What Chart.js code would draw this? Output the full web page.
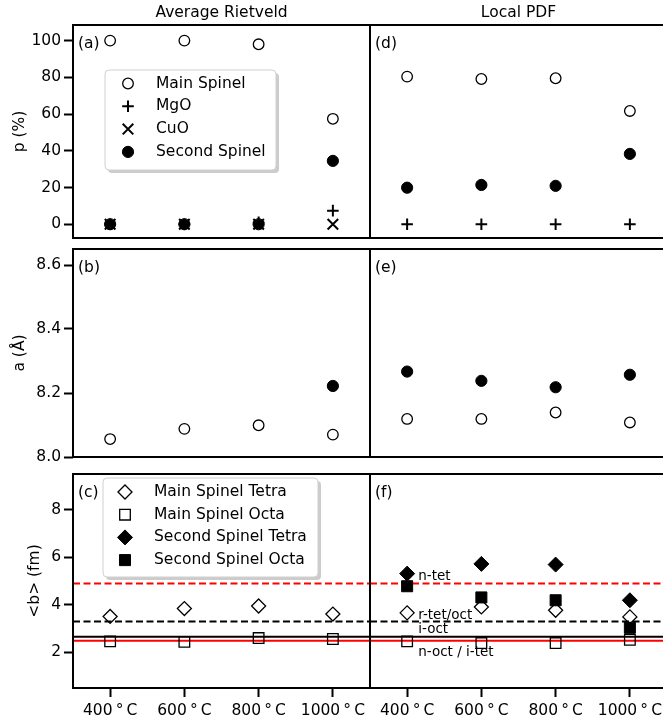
<!DOCTYPE html>
<html><head><meta charset="utf-8">
<script src="https://cdn.jsdelivr.net/npm/chart.js@4.4.1/dist/chart.umd.min.js"></script>
<style>
html,body{margin:0;padding:0;background:#fff;overflow:hidden}
#wrap{position:relative;width:663px;height:726px;overflow:hidden;background:#fff}
#wrap canvas{position:absolute;left:0;top:0}
</style></head><body>
<div id="wrap">
<canvas id="pa" width="663" height="726"></canvas>
<canvas id="pb" width="663" height="726"></canvas>
<canvas id="pc" width="663" height="726"></canvas>
<canvas id="pd" width="720" height="726"></canvas>
<canvas id="pe" width="720" height="726"></canvas>
<canvas id="pf" width="720" height="726"></canvas>
</div>
<script>
// ---------- data ----------
const temperatureLabels = ['400\u2009°\u2009C', '600\u2009°\u2009C', '800\u2009°\u2009C', '1000\u2009°\u2009C'];

// (a) Average Rietveld: phase fraction p (%)
const avgMainSpinelP   = [100, 100, 98, 57.4];
const avgMgOP          = [0, 0, 1, 7.4];
const avgCuOP          = [0, 0, 0, 0];
const avgSecondSpinelP = [0, 0, 0, 34.5];

// (d) Local PDF: phase fraction p (%)
const pdfMainSpinelP   = [80.4, 79.1, 79.5, 61.7];
const pdfMgOP          = [0, 0, 0, 0];
const pdfSecondSpinelP = [19.9, 21.4, 20.9, 38.3];

// (b) Average Rietveld: lattice parameter a (Å)
const avgMainSpinelA   = [8.056, 8.088, 8.099, 8.070];
const avgSecondSpinelA = [null, null, null, 8.222];

// (e) Local PDF: lattice parameter a (Å)
const pdfMainSpinelA   = [8.119, 8.119, 8.139, 8.108];
const pdfSecondSpinelA = [8.267, 8.238, 8.218, 8.257];

// (c) Average Rietveld: <b> (fm)
const avgMainTetraB = [3.51, 3.84, 3.95, 3.61];
const avgMainOctaB  = [2.46, 2.44, 2.60, 2.56];

// (f) Local PDF: <b> (fm)
const pdfMainTetraB   = [3.66, 3.91, 3.77, 3.49];
const pdfMainOctaB    = [2.46, 2.39, 2.39, 2.53];
const pdfSecondTetraB = [5.31, 5.72, 5.69, 4.19];
const pdfSecondOctaB  = [4.78, 4.31, 4.19, 3.03];

// reference <b> lines
const refLineValues = [4.9, 3.3, 2.66, 2.49];
const refLineColors = ['#ff0000', '#000000', '#000000', '#ff0000'];
const refLineDashed = [true, true, false, false];
const refLabels     = ['n-tet', 'r-tet/oct', 'i-oct', 'n-oct / i-tet'];
const refLabelY     = [5.18, 3.56, 2.95, 1.99];
const refLabelX     = 0.15;

// tick values
const pTicks = [0, 20, 40, 60, 80, 100];
const aTicks = [8.0, 8.2, 8.4, 8.6];
const bTicks = [2, 4, 6, 8];

// ---------- styles ----------
const FONT = 'DejaVu Sans';
const FS = 15.5;
const CLEAR = 'rgba(0,0,0,0)';
const styles = {
  mainSpinel:   {pointStyle: 'circle',   radius: 5.3, bg: CLEAR,  bw: 1.3},
  mgo:          {pointStyle: 'cross',    radius: 5.8, bg: '#000', bw: 2},
  cuo:          {pointStyle: 'crossRot', radius: 7.5, bg: '#000', bw: 2},
  secondSpinel: {pointStyle: 'circle',   radius: 5.6, bg: '#000', bw: 1},
  mainTetra:    {pointStyle: 'rectRot',  radius: 7,   bg: CLEAR,  bw: 1.3},
  mainOcta:     {pointStyle: 'rect',     radius: 7.5, bg: CLEAR,  bw: 1.3},
  secondTetra:  {pointStyle: 'rectRot',  radius: 7.5, bg: '#000', bw: 1},
  secondOcta:   {pointStyle: 'rect',     radius: 7.8, bg: '#000', bw: 1}
};

function ds(label, data, st) {
  return {
    label, data, showLine: false,
    pointStyle: st.pointStyle, pointRadius: st.radius, pointHoverRadius: st.radius,
    pointBackgroundColor: st.bg, pointBorderColor: '#000', pointBorderWidth: st.bw,
    pointHoverBorderWidth: st.bw, borderColor: '#000', backgroundColor: st.bg
  };
}

// ---------- plugin ----------
function roundRectPath(ctx, x, y, w, h, r) {
  ctx.beginPath();
  ctx.moveTo(x + r, y);
  ctx.lineTo(x + w - r, y); ctx.quadraticCurveTo(x + w, y, x + w, y + r);
  ctx.lineTo(x + w, y + h - r); ctx.quadraticCurveTo(x + w, y + h, x + w - r, y + h);
  ctx.lineTo(x + r, y + h); ctx.quadraticCurveTo(x, y + h, x, y + h - r);
  ctx.lineTo(x, y + r); ctx.quadraticCurveTo(x, y, x + r, y);
  ctx.closePath();
}

const panelPlugin = {
  id: 'panel',
  beforeDatasetsDraw(chart, args, o) {
    if (!o.refLines) return;
    const ctx = chart.ctx, ca = chart.chartArea, ys = chart.scales.y;
    ctx.save();
    ctx.beginPath(); ctx.rect(ca.left, ca.top, ca.right - ca.left, ca.bottom - ca.top); ctx.clip();
    refLineValues.forEach((v, i) => {
      const py = ys.getPixelForValue(v);
      ctx.strokeStyle = refLineColors[i];
      ctx.lineWidth = 2;
      ctx.setLineDash(refLineDashed[i] ? [7, 3.5] : []);
      ctx.beginPath(); ctx.moveTo(ca.left, py); ctx.lineTo(ca.right, py); ctx.stroke();
    });
    ctx.restore();
  },
  afterDatasetsDraw(chart, args, o) {
    const ctx = chart.ctx, ca = chart.chartArea;
    if (o.refText) {
      const xs = chart.scales.x, ys = chart.scales.y;
      ctx.save();
      ctx.font = '13.5px "' + FONT + '"';
      ctx.fillStyle = '#000'; ctx.textBaseline = 'middle'; ctx.textAlign = 'left';
      const x0 = xs.getPixelForValue(0), x1 = xs.getPixelForValue(1);
      refLabels.forEach((t, i) => {
        ctx.fillText(t, x0 + (x1 - x0) * refLabelX, ys.getPixelForValue(refLabelY[i]));
      });
      ctx.restore();
    }
    if (o.legend) {
      const L = o.legend;
      const x = ca.left + L.x, y = ca.top + L.y;
      ctx.save();
      ctx.fillStyle = 'rgba(0,0,0,0.2)';
      roundRectPath(ctx, x + 3, y + 3, L.w, L.h, 4); ctx.fill();
      ctx.fillStyle = '#ffffff';
      roundRectPath(ctx, x, y, L.w, L.h, 4); ctx.fill();
      ctx.strokeStyle = '#d0d0d0'; ctx.lineWidth = 1; ctx.stroke();
      L.items.forEach((it, i) => {
        const cy = y + L.first + i * L.step;
        const st = it.style;
        ctx.fillStyle = st.bg; ctx.strokeStyle = '#000'; ctx.lineWidth = st.bw;
        Chart.helpers.drawPoint(ctx, {pointStyle: st.pointStyle, radius: st.radius, borderWidth: st.bw, rotation: 0}, x + L.mx, cy);
        ctx.fillStyle = '#000';
        ctx.font = FS + 'px "' + FONT + '"';
        ctx.textBaseline = 'middle'; ctx.textAlign = 'left';
        ctx.fillText(it.text, x + L.tx, cy);
      });
      ctx.restore();
    }
  },
  afterDraw(chart, args, o) {
    const ctx = chart.ctx, ca = chart.chartArea;
    ctx.save();
    ctx.strokeStyle = '#000'; ctx.lineWidth = 2; ctx.setLineDash([]);
    ctx.strokeRect(ca.left, ca.top, ca.right - ca.left, ca.bottom - ca.top);
    ctx.fillStyle = '#000';
    ctx.font = FS + 'px "' + FONT + '"';
    if (o.label) {
      ctx.textAlign = 'left'; ctx.textBaseline = 'middle';
      ctx.fillText(o.label, ca.left + 5, ca.top + 18.5);
    }
    if (o.title) {
      ctx.textAlign = 'center'; ctx.textBaseline = 'middle';
      ctx.fillText(o.title, (ca.left + ca.right) / 2, 12.5);
    }
    ctx.restore();
  }
};
Chart.register(panelPlugin);
Chart.defaults.color = '#000';
Chart.defaults.font.family = FONT;
Chart.defaults.font.size = FS;

function makePanel(id, cfg) {
  const tickGrid = {display: true, drawOnChartArea: false, drawTicks: true, tickLength: 9, tickWidth: 2, tickColor: '#000'};
  return new Chart(document.getElementById(id), {
    type: 'line',
    data: {labels: temperatureLabels, datasets: cfg.datasets},
    options: {
      responsive: false, animation: false, events: [],
      layout: {padding: cfg.padding, autoPadding: false},
      plugins: {legend: {display: false}, tooltip: {enabled: false}, title: {display: false}, panel: cfg.panel},
      scales: {
        x: {
          type: 'category', offset: true, display: cfg.showX,
          grid: tickGrid, border: {display: false},
          ticks: {color: '#000', font: {size: FS}, padding: 5, maxRotation: 0, autoSkip: false},
          afterFit: s => { s.height = cfg.showX ? 38 : 0; }
        },
        y: {
          type: 'linear', min: cfg.yMin, max: cfg.yMax, display: cfg.showY,
          grid: tickGrid, border: {display: false},
          afterBuildTicks: s => { s.ticks = cfg.yTicks.map(v => ({value: v})); },
          ticks: {color: '#000', font: {size: FS}, padding: 3, callback: cfg.yFmt},
          title: {display: !!cfg.yTitle, text: cfg.yTitle, color: '#000', font: {size: FS}, padding: {top: cfg.yTitlePad || 11, bottom: 0}},
          afterFit: s => { s.width = cfg.showY ? 73 : 0; }
        }
      }
    }
  });
}

const intFmt = v => String(Math.round(v));
const oneFmt = v => v.toFixed(1);

const padL = (top, bottom) => ({left: 0, right: 663 - 370, top, bottom});
const padR = (top, bottom) => ({left: 370, right: 720 - 667, top, bottom});

// (a)
makePanel('pa', {
  padding: padL(25, 726 - 238), showX: false, showY: true,
  yMin: -7.5, yMax: 108.5, yTicks: pTicks, yFmt: intFmt, yTitle: 'p (%)', yTitlePad: 11,
  datasets: [
    ds('Main Spinel', avgMainSpinelP, styles.mainSpinel),
    ds('MgO', avgMgOP, styles.mgo),
    ds('CuO', avgCuOP, styles.cuo),
    ds('Second Spinel', avgSecondSpinelP, styles.secondSpinel)
  ],
  panel: {label: '(a)', title: 'Average Rietveld',
    legend: {x: 32, y: 45, w: 171, h: 100, first: 13.5, step: 22.8, mx: 23, tx: 51,
      items: [
        {text: 'Main Spinel', style: styles.mainSpinel},
        {text: 'MgO', style: styles.mgo},
        {text: 'CuO', style: styles.cuo},
        {text: 'Second Spinel', style: styles.secondSpinel}
      ]}}
});
// (d)
makePanel('pd', {
  padding: padR(25, 726 - 238), showX: false, showY: false,
  yMin: -7.5, yMax: 108.5, yTicks: pTicks, yFmt: intFmt,
  datasets: [
    ds('Main Spinel', pdfMainSpinelP, styles.mainSpinel),
    ds('MgO', pdfMgOP, styles.mgo),
    ds('Second Spinel', pdfSecondSpinelP, styles.secondSpinel)
  ],
  panel: {label: '(d)', title: 'Local PDF'}
});
// (b)
makePanel('pb', {
  padding: padL(249, 726 - 457), showX: false, showY: true,
  yMin: 8.0, yMax: 8.65, yTicks: aTicks, yFmt: oneFmt, yTitle: 'a (Å)', yTitlePad: 11,
  datasets: [
    ds('Main Spinel', avgMainSpinelA, styles.mainSpinel),
    ds('Second Spinel', avgSecondSpinelA, styles.secondSpinel)
  ],
  panel: {label: '(b)'}
});
// (e)
makePanel('pe', {
  padding: padR(249, 726 - 457), showX: false, showY: false,
  yMin: 8.0, yMax: 8.65, yTicks: aTicks, yFmt: oneFmt,
  datasets: [
    ds('Main Spinel', pdfMainSpinelA, styles.mainSpinel),
    ds('Second Spinel', pdfSecondSpinelA, styles.secondSpinel)
  ],
  panel: {label: '(e)'}
});
// (c)
makePanel('pc', {
  padding: padL(474, 0), showX: true, showY: true,
  yMin: 0.5, yMax: 9.5, yTicks: bTicks, yFmt: intFmt, yTitle: '<b> (fm)', yTitlePad: 26,
  datasets: [
    ds('Main Spinel Tetra', avgMainTetraB, styles.mainTetra),
    ds('Main Spinel Octa', avgMainOctaB, styles.mainOcta)
  ],
  panel: {label: '(c)', refLines: true,
    legend: {x: 30, y: 4, w: 215, h: 99, first: 14, step: 22.7, mx: 22, tx: 51,
      items: [
        {text: 'Main Spinel Tetra', style: styles.mainTetra},
        {text: 'Main Spinel Octa', style: styles.mainOcta},
        {text: 'Second Spinel Tetra', style: styles.secondTetra},
        {text: 'Second Spinel Octa', style: styles.secondOcta}
      ]}}
});
// (f)
makePanel('pf', {
  padding: padR(474, 0), showX: true, showY: false,
  yMin: 0.5, yMax: 9.5, yTicks: bTicks, yFmt: intFmt,
  datasets: [
    ds('Main Spinel Tetra', pdfMainTetraB, styles.mainTetra),
    ds('Main Spinel Octa', pdfMainOctaB, styles.mainOcta),
    ds('Second Spinel Tetra', pdfSecondTetraB, styles.secondTetra),
    ds('Second Spinel Octa', pdfSecondOctaB, styles.secondOcta)
  ],
  panel: {label: '(f)', refLines: true, refText: true}
});
</script>
</body></html>
